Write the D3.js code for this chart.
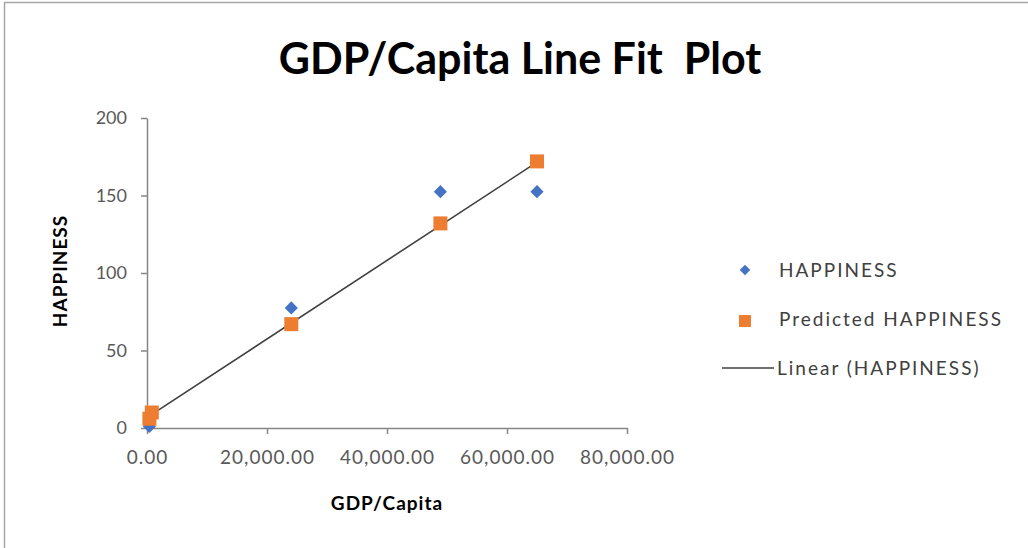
<!DOCTYPE html>
<html>
<head>
<meta charset="utf-8">
<script src="https://cdn.jsdelivr.net/npm/d3@7"></script>
<style>
  body { margin: 0; background: #fff; }
  svg { display: block; }
</style>
</head>
<body>
<svg id="chart" width="1028" height="548"></svg>
<script>
// data
var gdp = [400, 800, 24050, 48900, 65000];
var happiness = [1, 9, 77.5, 152.5, 152.5];
var predicted = [6, 10, 67, 132, 172];
var trendX = [300, 65000];
var trendY = [7.5, 171.5];
var xTicks = [0, 20000, 40000, 60000, 80000];
var yTicks = [0, 50, 100, 150, 200];

var svg = d3.select("#chart");
var font = "Lato, 'Open Sans', sans-serif";

// chart border
svg.append("path")
  .attr("d", "M4.5,548 L4.5,2.5 L1028,2.5")
  .attr("fill", "none")
  .attr("stroke", "#a6a6a6")
  .attr("stroke-width", 1.5);

var x = d3.scaleLinear().domain([0, 80000]).range([147, 627]);
var y = d3.scaleLinear().domain([0, 200]).range([428, 118]);

// axes
var xAxis = svg.append("g")
  .attr("transform", "translate(0," + y(0) + ")")
  .call(d3.axisBottom(x).tickValues(xTicks).tickSize(6).tickSizeOuter(0)
    .tickFormat(d3.format(",.2f")));
var yAxis = svg.append("g")
  .attr("transform", "translate(" + x(0) + ",0)")
  .call(d3.axisLeft(y).tickValues(yTicks).tickSize(6).tickSizeOuter(0));

[xAxis, yAxis].forEach(function(a){
  a.select(".domain").attr("stroke", "#868686").attr("stroke-width", 1.5);
  a.selectAll(".tick line").attr("stroke", "#868686").attr("stroke-width", 1.5);
  a.selectAll(".tick text")
    .attr("fill", "#595959")
    .style("font-family", font)
    .style("font-size", "18px");
});
xAxis.selectAll(".tick text")
  .attr("dy", "1.4em")
  .style("font-size", "19px")
  .style("letter-spacing", "1px");
yAxis.selectAll(".tick text").attr("x", -20);

// trendline
svg.append("line")
  .attr("x1", x(trendX[0])).attr("y1", y(trendY[0]))
  .attr("x2", x(trendX[1])).attr("y2", y(trendY[1]))
  .attr("stroke", "#404040")
  .attr("stroke-width", 1.6);

// happiness diamonds
svg.append("g").selectAll("path")
  .data(gdp)
  .enter().append("path")
  .attr("d", d3.symbol().type(d3.symbolDiamond2).size(110))
  .attr("transform", function(d, i){ return "translate(" + x(d) + "," + y(happiness[i]) + ")"; })
  .attr("fill", "#4472c4");

// predicted squares
svg.append("g").selectAll("rect")
  .data(gdp)
  .enter().append("rect")
  .attr("x", function(d){ return x(d) - 7; })
  .attr("y", function(d, i){ return y(predicted[i]) - 7; })
  .attr("width", 14).attr("height", 14)
  .attr("fill", "#ed7d31");

// title
svg.append("text")
  .attr("x", 520).attr("y", 74)
  .attr("text-anchor", "middle")
  .style("font-family", font)
  .style("font-weight", "bold")
  .style("font-size", "43px")
  .attr("fill", "#000")
  .attr("xml:space", "preserve")
  .text("GDP/Capita Line Fit  Plot");

// axis titles
svg.append("text")
  .attr("x", 387).attr("y", 510)
  .attr("text-anchor", "middle")
  .style("font-family", font)
  .style("font-weight", "bold")
  .style("font-size", "19px")
  .style("letter-spacing", "1px")
  .attr("fill", "#000")
  .text("GDP/Capita");

svg.append("text")
  .attr("transform", "translate(67,271) rotate(-90)")
  .attr("text-anchor", "middle")
  .style("font-family", font)
  .style("font-weight", "bold")
  .style("font-size", "19px")
  .style("letter-spacing", "1px")
  .attr("fill", "#000")
  .text("HAPPINESS");

// legend
var legend = svg.append("g");
legend.append("path")
  .attr("d", d3.symbol().type(d3.symbolDiamond2).size(70))
  .attr("transform", "translate(745,270)")
  .attr("fill", "#4472c4");
legend.append("rect")
  .attr("x", 739).attr("y", 315).attr("width", 12).attr("height", 12)
  .attr("fill", "#ed7d31");
legend.append("line")
  .attr("x1", 722).attr("x2", 774).attr("y1", 368).attr("y2", 368)
  .attr("stroke", "#404040").attr("stroke-width", 1.6);

var legendItems = ["HAPPINESS", "Predicted HAPPINESS", "Linear (HAPPINESS)"];
legend.selectAll("text.item")
  .data(legendItems)
  .enter().append("text")
  .attr("class", "item")
  .attr("x", function(d, i){ return i == 2 ? 777 : 779; })
  .attr("y", function(d, i){ return 270 + i * 49; })
  .attr("dy", "0.35em")
  .style("font-family", font)
  .style("font-size", "19px")
  .style("letter-spacing", "2px")
  .attr("fill", "#404040")
  .text(function(d){ return d; });
</script>
</body>
</html>
